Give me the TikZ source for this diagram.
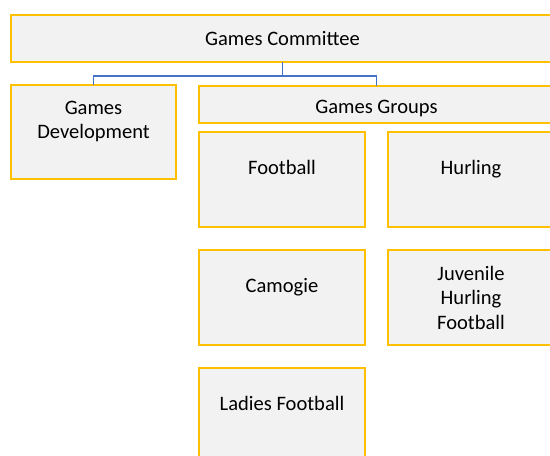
\documentclass[tikz,border=0pt]{standalone}
\usepackage{fontspec}
\setmainfont{Carlito}

\definecolor{boxgold}{HTML}{FFC000}
\definecolor{boxgrey}{HTML}{F2F2F2}
\definecolor{linkblue}{HTML}{4472C4}

\begin{document}
\begin{tikzpicture}[x=0.75pt,y=-0.75pt,
    box/.style={shape=rectangle,draw=boxgold,fill=boxgrey,line width=1.4pt,
        inner sep=0pt,outer sep=0pt,align=center,
        font=\fontsize{15.4}{18.4}\selectfont},
    sport/.style={box,minimum width=124.5pt,minimum height=71.25pt},
    link/.style={draw=linkblue,line width=1.1pt}]
    \clip (0,0) rectangle (550,456);
    \node[box,minimum width=407.25pt,minimum height=35.25pt] (com) at (282.5,38.5) {Games Committee};
    \node[box,minimum width=123.75pt,minimum height=70.5pt] (dev) at (93.5,132) {Games\\Development\\~};
    \node[box,minimum width=266.25pt,minimum height=27.75pt,text height=13.8pt,text depth=0pt] (grp) at (376.5,104.5) {Games Groups};
    \node[sport] (fb) at (282,179.5) {Football\\~};
    \node[sport] (hur) at (471,179.5) {Hurling\\~};
    \node[sport] (cam) at (282,297.5) {Camogie\\~};
    \node[sport] (juv) at (471,297.5) {Juvenile\\Hurling\\Football};
    \node[sport] (lad) at (282,415.5) {Ladies Football\\~};
    \draw[link] (com.south) -- ++(0,14) -| (dev.north);
    \draw[link] (com.south) -- ++(0,14) -| (grp.north);
\end{tikzpicture}
\end{document}
